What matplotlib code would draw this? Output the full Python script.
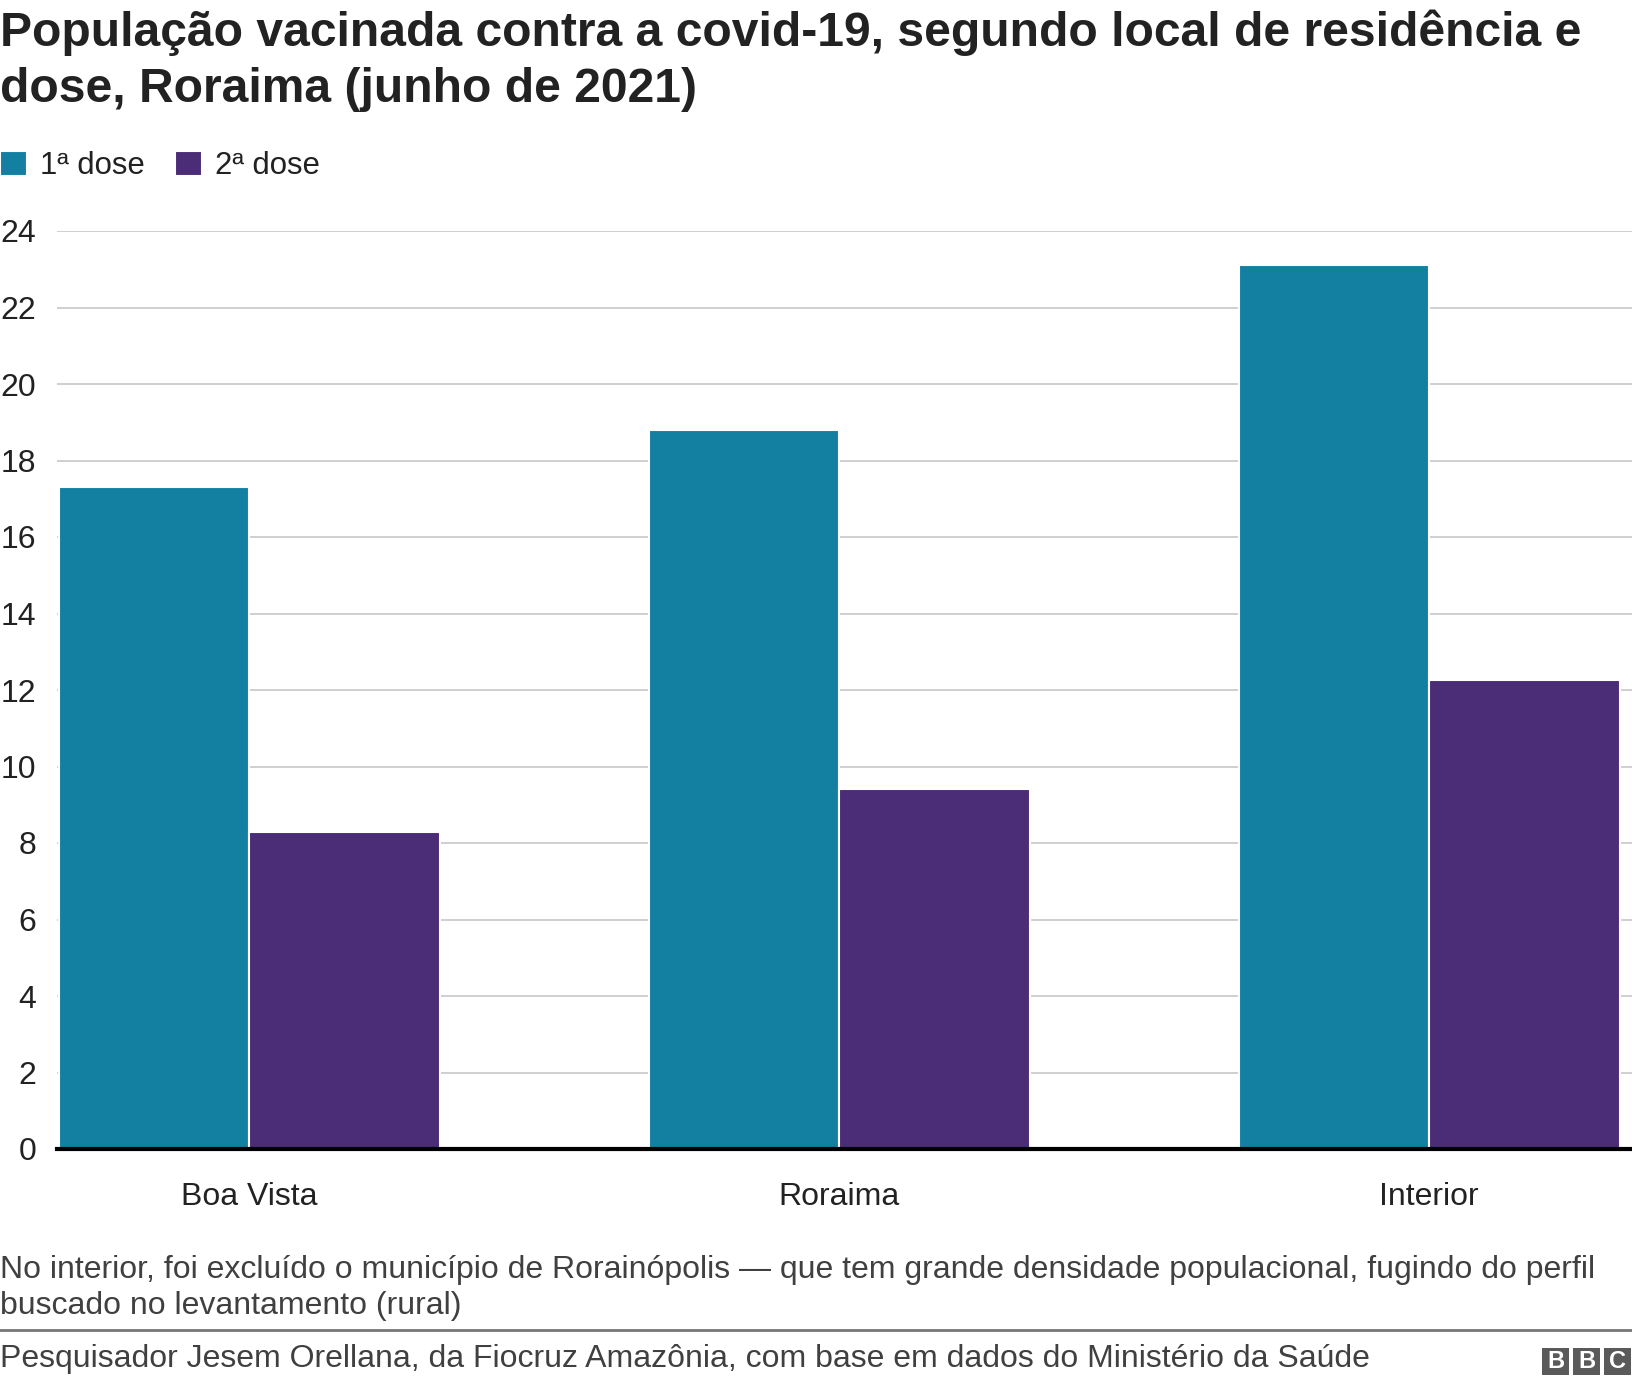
import matplotlib.pyplot as plt
import numpy as np
from matplotlib.patches import Rectangle

plt.rcParams['font.family'] = ['Liberation Sans', 'DejaVu Sans']

# dados
locais = ['Boa Vista', 'Roraima', 'Interior']
dose1 = [17.3, 18.8, 23.1]
dose2 = [8.3, 9.4, 12.25]
series = ['1ª dose', '2ª dose']
cores = ['#1380A1', '#4B2C76']
yticks = list(range(0, 25, 2))

W, H = 1632, 1386
fig = plt.figure(figsize=(W / 100, H / 100), dpi=100)
ax = fig.add_axes([57 / W, 1 - 1149 / H, 1 - 57 / W, (1149 - 231) / H])

x = np.arange(len(locais))
bw = 0.323
b1 = ax.bar(x - bw / 2, dose1, width=bw, color=cores[0], edgecolor='white', linewidth=1.5, label=series[0], zorder=2)
b2 = ax.bar(x + bw / 2, dose2, width=bw, color=cores[1], edgecolor='white', linewidth=1.5, label=series[1], zorder=2)

ax.set_xlim(-0.326, 2.344)
ax.set_ylim(0, 24)
ax.set_yticks(yticks)
ax.set_yticklabels([str(t) for t in yticks], fontsize=23, color='#222222', ha='right')
ax.set_xticks(x)
ax.set_xticklabels(locais, fontsize=23, color='#222222')
ax.tick_params(axis='y', length=0, pad=15)
ax.tick_params(axis='x', length=0, pad=24)
ax.grid(axis='y', color='#cccccc', linewidth=1.3, zorder=0)
for s in ['top', 'right', 'left']:
    ax.spines[s].set_visible(False)
ax.spines['bottom'].set_linewidth(3)
ax.spines['bottom'].set_color('#000000')
ax.spines['bottom'].set_zorder(3)

# título
fig.text(0, 1 - 9 / H, 'População vacinada contra a covid-19, segundo local de residência e\ndose, Roraima (junho de 2021)',
         fontsize=34.6, fontweight='bold', color='#222222', ha='left', va='top', linespacing=1.33)

# legenda
fig.legend(handles=[b1, b2], labels=series, loc='upper left', bbox_to_anchor=(0, 1 - 151 / H),
           ncol=2, frameon=False, fontsize=22.4, handlelength=0.87, handleheight=0.87,
           handletextpad=0.4, columnspacing=1.0, borderpad=0, borderaxespad=0, labelcolor='#222222')

# nota e fonte
fig.text(0, 1 - 1288 / H, 'No interior, foi excluído o município de Rorainópolis — que tem grande densidade populacional, fugindo do perfil\nbuscado no levantamento (rural)',
         fontsize=23, color='#404040', ha='left', va='center', linespacing=1.28)
fig.add_artist(plt.Line2D([0, 1], [1 - 1330 / H, 1 - 1330 / H], color='#777777', linewidth=2, transform=fig.transFigure))
fig.text(0, 1 - 1359 / H, 'Pesquisador Jesem Orellana, da Fiocruz Amazônia, com base em dados do Ministério da Saúde',
         fontsize=23, color='#404040', ha='left', va='center')

# logo BBC
for i, letra in enumerate('BBC'):
    x0 = 1542 + i * 31
    fig.add_artist(Rectangle((x0 / W, 1 - 1375 / H), 27 / W, 27 / H, transform=fig.transFigure,
                             facecolor='#5a5a5a', edgecolor='none'))
    fig.text((x0 + 13.5) / W, 1 - 1361.5 / H, letra, fontsize=17, fontweight='bold', color='white',
             ha='center', va='center')

fig.savefig('out.png', dpi=100)
